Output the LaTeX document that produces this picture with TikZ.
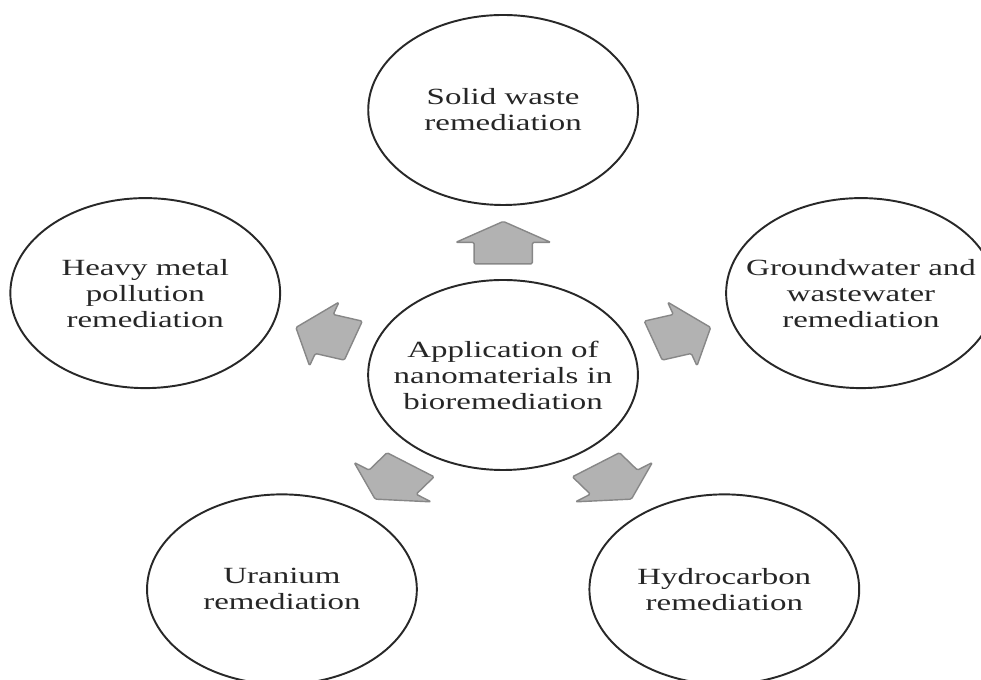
\documentclass[tikz,border=0pt]{standalone}
\usepackage{fontspec}
\setmainfont{Liberation Serif}
\usepackage{tikz}
\usetikzlibrary{calc}
\definecolor{circleline}{RGB}{40,40,40}
\definecolor{arrowfill}{RGB}{178,178,178}
\definecolor{arrowline}{RGB}{135,135,135}
\newcommand{\remarrow}[2]{%
  \draw[blockarrow, rotate=#2] (#1) +(-0.43,-0.41) -- +(0,-0.41) -- +(0,-0.67)
    -- +(0.42,0) -- +(0,0.67) -- +(0,0.41) -- +(-0.43,0.41) -- cycle;}

\begin{document}
\begin{tikzpicture}
  \useasboundingbox (0,0) rectangle (19.62,13.6);
  \clip (0,0) rectangle (19.62,13.6);
  \begin{scope}[
      xscale=1.42, transform shape,
      spot/.style={circle, draw=circleline, line width=1.1pt, minimum size=3.8cm,
        inner sep=0pt, align=center, text=black!85,
        font=\fontsize{13.2}{14.8}\selectfont},
      blockarrow/.style={fill=arrowfill, draw=arrowline, line width=0.8pt,
        rounded corners=0.8pt, line join=round}
    ]
    \node[spot] (app) at (7.085,6.10) {Application of\\nanomaterials in\\bioremediation};
    \node[spot] (solid) at ($(app)+(90:5.3)$) {Solid waste\\remediation};
    \node[spot] (ground) at ($(app)+(18:5.3)$) {Groundwater and\\wastewater\\remediation};
    \node[spot] (hydro) at ($(app)+(306:5.3)$) {Hydrocarbon\\remediation};
    \node[spot] (uran) at ($(app)+(234:5.3)$) {Uranium\\remediation};
    \node[spot] (heavy) at ($(app)+(162:5.3)$) {Heavy metal\\pollution\\remediation};

    % arrows sit half way in the gaps
    \coordinate (a1) at ($(app.90)!0.5!(solid.270)$);
    \coordinate (a2) at ($(app.18)!0.5!(ground.198)$);
    \coordinate (a3) at ($(app.306)!0.5!(hydro.126)$);
    \coordinate (a4) at ($(app.234)!0.5!(uran.54)$);
    \coordinate (a5) at ($(app.162)!0.5!(heavy.342)$);
    \remarrow{a1}{90}
    \remarrow{a2}{18}
    \remarrow{a3}{306}
    \remarrow{a4}{234}
    \remarrow{a5}{162}
  \end{scope}
\end{tikzpicture}
\end{document}
